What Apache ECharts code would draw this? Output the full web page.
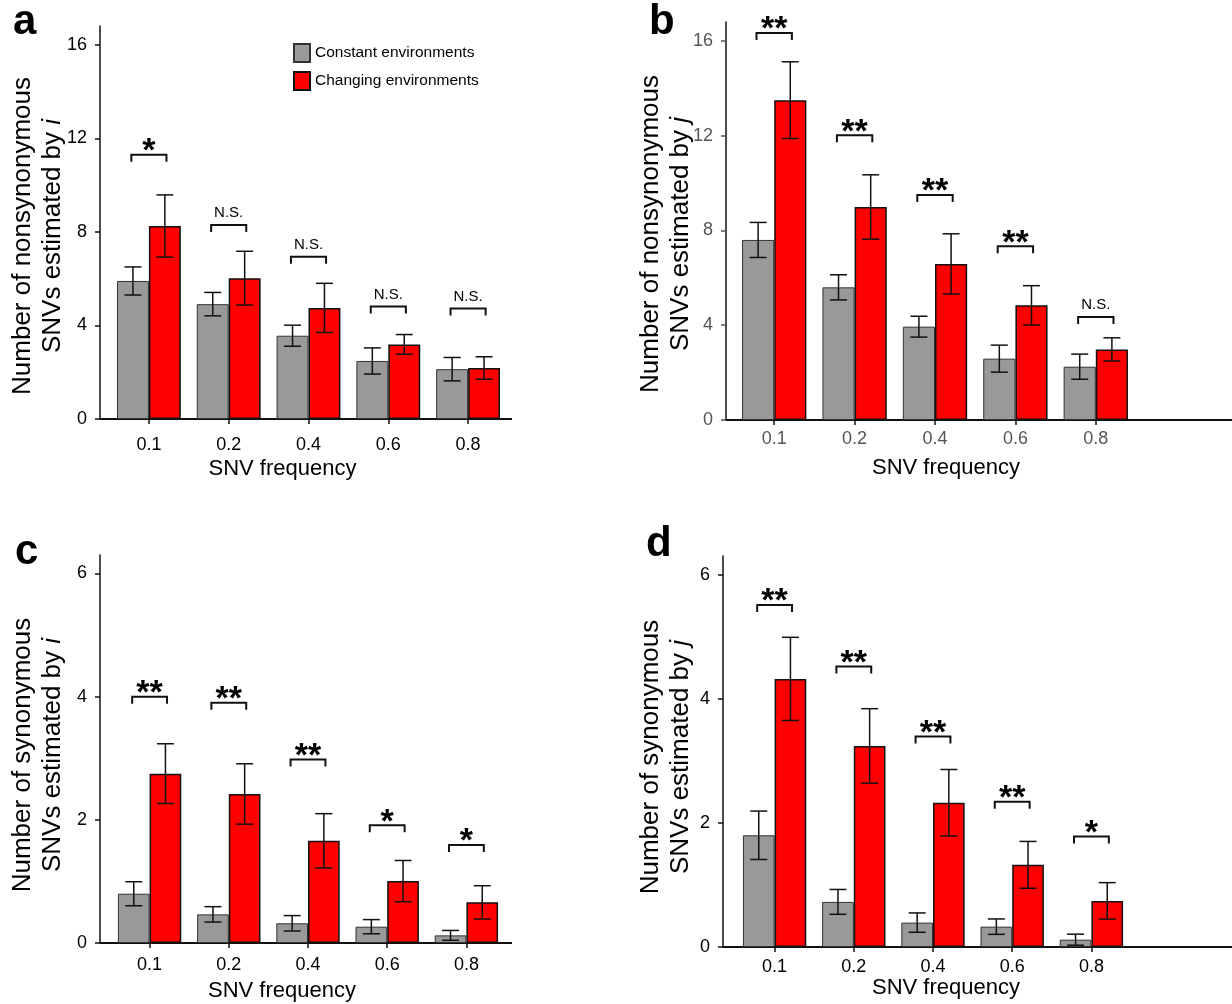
<!DOCTYPE html>
<html>
<head>
<meta charset="utf-8">
<script src="https://cdn.jsdelivr.net/npm/echarts@6/dist/echarts.min.js"></script>
<style>
  html, body { margin: 0; padding: 0; background: #fff; }
  #chart { width: 1232px; height: 1004px; }
</style>
</head>
<body>
<div id="chart"></div>
<script>
// categories and ticks
const freqs = ['0.1', '0.2', '0.4', '0.6', '0.8'];
const yTicksNon = [0, 4, 8, 12, 16];
const yTicksSyn = [0, 2, 4, 6];

// a: nonsynonymous, estimated by i
const aConst = [5.90, 4.91, 3.56, 2.48, 2.13];
const aConstSE = [0.60, 0.50, 0.45, 0.56, 0.50];
const aChange = [8.25, 6.02, 4.75, 3.19, 2.18];
const aChangeSE = [1.33, 1.15, 1.05, 0.42, 0.48];
const aSigY = [11.3, 8.29, 6.94, 4.81, 4.72];
const aSig = ['*', 'N.S.', 'N.S.', 'N.S.', 'N.S.'];

// b: nonsynonymous, estimated by j
const bConst = [7.60, 5.60, 3.94, 2.59, 2.25];
const bConstSE = [0.74, 0.53, 0.44, 0.57, 0.53];
const bChange = [13.50, 8.99, 6.59, 4.84, 2.98];
const bChangeSE = [1.62, 1.36, 1.27, 0.83, 0.49];
const bSigY = [16.34, 12.02, 9.50, 7.33, 4.35];
const bSig = ['**', '**', '**', '**', 'N.S.'];

// c: synonymous, estimated by i
const cConst = [0.80, 0.465, 0.32, 0.265, 0.124];
const cConstSE = [0.195, 0.125, 0.125, 0.115, 0.08];
const cChange = [2.75, 2.42, 1.66, 1.005, 0.66];
const cChangeSE = [0.485, 0.49, 0.44, 0.335, 0.27];
const cSigY = [4.0, 3.90, 2.98, 1.91, 1.59];
const cSig = ['**', '**', '**', '*', '*'];

// d: synonymous, estimated by j
const dConst = [1.80, 0.727, 0.393, 0.328, 0.118];
const dConstSE = [0.39, 0.20, 0.156, 0.124, 0.089];
const dChange = [4.32, 3.24, 2.325, 1.324, 0.743];
const dChangeSE = [0.67, 0.60, 0.535, 0.377, 0.294];
const dSigY = [5.51, 4.52, 3.39, 2.34, 1.78];
const dSig = ['**', '**', '**', '**', '*'];

const FONT = '"Liberation Sans", Arial, Helvetica, sans-serif';
const GREY = '#999999';
const RED = '#ff0000';

const panels = [
  { letter: 'a', cons: aConst, consSE: aConstSE, chg: aChange, chgSE: aChangeSE, sigY: aSigY, sig: aSig,
    ticks: yTicksNon, max: 16.8, title: 'Number of nonsynonymous\nSNVs estimated by {it|i}',
    left: 109, width: 399, top: 26, height: 393, axisX: 100, lineEnd: 512, labelColor: '#000',
    letterX: 13, letterY: 39, titleX: 38, titleY: 236, nameShift: -26, labelMargin: 17, nameGap: 39 },
  { letter: 'b', cons: bConst, consSE: bConstSE, chg: bChange, chgSE: bChangeSE, sigY: bSigY, sig: bSig,
    ticks: yTicksNon, max: 16.8, title: 'Number of nonsynonymous\nSNVs estimated by {it|j}',
    left: 734, width: 402, top: 22, height: 398, axisX: 726, lineEnd: 1232, labelColor: '#555',
    letterX: 649, letterY: 39, titleX: 666, titleY: 234, nameShift: 11, labelMargin: 10.5, nameGap: 37 },
  { letter: 'c', cons: cConst, consSE: cConstSE, chg: cChange, chgSE: cChangeSE, sigY: cSigY, sig: cSig,
    ticks: yTicksSyn, max: 6.3, title: 'Number of synonymous\nSNVs estimated by {it|i}',
    left: 110, width: 396, top: 555, height: 388, axisX: 100, lineEnd: 512, labelColor: '#000',
    letterX: 15, letterY: 569, titleX: 38, titleY: 755, nameShift: -26, labelMargin: 13.5, nameGap: 37 },
  { letter: 'd', cons: dConst, consSE: dConstSE, chg: dChange, chgSE: dChangeSE, sigY: dSigY, sig: dSig,
    ticks: yTicksSyn, max: 6.3, title: 'Number of synonymous\nSNVs estimated by {it|j}',
    left: 735, width: 396, top: 556, height: 391, axisX: 723, lineEnd: 1232, labelColor: '#000',
    letterX: 646, letterY: 561, titleX: 666, titleY: 757, nameShift: 13, labelMargin: 11.5, nameGap: 30 }
];

// error bar drawn at the centre of the grey (side -1) or red (side +1) bar
function errorBar(side) {
  return function (params, api) {
    const i = api.value(0), v = api.value(1), e = api.value(2);
    const band = api.size([1, 0])[0];
    const x = api.coord([i, v])[0] + side * band * 0.2;
    const yTop = api.coord([i, v + e])[1];
    const yBot = api.coord([i, Math.max(v - e, 0)])[1];
    const w = 8.5;
    const st = { stroke: '#111', lineWidth: 1.5 };
    return {
      type: 'group',
      children: [
        { type: 'line', shape: { x1: x, y1: yTop, x2: x, y2: yBot }, style: st },
        { type: 'line', shape: { x1: x - w, y1: yTop, x2: x + w, y2: yTop }, style: st },
        { type: 'line', shape: { x1: x - w, y1: yBot, x2: x + w, y2: yBot }, style: st }
      ]
    };
  };
}

// significance bracket between the two bars, label above
function bracket(labels) {
  return function (params, api) {
    const i = api.value(0), y = api.value(1);
    const band = api.size([1, 0])[0];
    const p = api.coord([i, y]);
    const half = band * 0.22, leg = 7;
    const lab = labels[params.dataIndex];
    const star = lab !== 'N.S.';
    return {
      type: 'group',
      children: [
        { type: 'polyline',
          shape: { points: [[p[0] - half, p[1] + leg], [p[0] - half, p[1]], [p[0] + half, p[1]], [p[0] + half, p[1] + leg]] },
          style: { stroke: '#111', lineWidth: 2, fill: null } },
        { type: 'text', x: p[0], y: star ? p[1] - 3 : p[1] - 12,
          style: { text: lab, fill: '#000', align: 'center', verticalAlign: 'middle',
                   font: star ? 'bold 34px ' + FONT : '15px ' + FONT } }
      ]
    };
  };
}

const grid = [], xAxis = [], yAxis = [], series = [], graphic = [];

panels.forEach(function (pn, g) {
  grid.push({ left: pn.left, width: pn.width, top: pn.top, height: pn.height });
  const pad = pn.nameShift < 0 ? [0, -2 * pn.nameShift, 0, 0] : [0, 0, 0, 2 * pn.nameShift];
  xAxis.push({
    type: 'category', gridIndex: g, data: freqs,
    axisLine: { show: false },
    axisTick: { show: true, alignWithLabel: true, length: 5, lineStyle: { color: '#111', width: 1.5 } },
    axisLabel: { color: pn.labelColor, fontSize: 18, fontFamily: FONT, margin: pn.labelMargin },
    name: 'SNV frequency', nameLocation: 'middle', nameGap: pn.nameGap,
    nameTextStyle: { color: '#000', fontSize: 22, fontFamily: FONT, padding: pad }
  });
  yAxis.push({
    type: 'value', gridIndex: g, min: 0, max: pn.max, interval: 2,
    offset: pn.left - pn.axisX,
    splitLine: { show: false },
    axisLine: { show: true, lineStyle: { color: '#111', width: 1.5 } },
    axisTick: { show: true, length: 5, customValues: pn.ticks, lineStyle: { color: pn.labelColor === '#000' ? '#111' : '#555', width: 1.5 } },
    axisLabel: { color: pn.labelColor, fontSize: 18, fontFamily: FONT, margin: 13, customValues: pn.ticks }
  });

  series.push({
    name: 'Constant environments', type: 'bar', xAxisIndex: g, yAxisIndex: g,
    data: pn.cons, barGap: 0, barCategoryGap: '20%',
    itemStyle: { color: GREY, borderColor: '#333', borderWidth: 1 }
  });
  series.push({
    name: 'Changing environments', type: 'bar', xAxisIndex: g, yAxisIndex: g,
    data: pn.chg, barGap: 0, barCategoryGap: '20%',
    itemStyle: { color: RED, borderColor: '#111', borderWidth: 1.5 }
  });
  series.push({
    type: 'custom', xAxisIndex: g, yAxisIndex: g, z: 5,
    renderItem: errorBar(-1), encode: { x: 0, y: 1 },
    data: pn.cons.map(function (v, i) { return [i, v, pn.consSE[i]]; })
  });
  series.push({
    type: 'custom', xAxisIndex: g, yAxisIndex: g, z: 5,
    renderItem: errorBar(1), encode: { x: 0, y: 1 },
    data: pn.chg.map(function (v, i) { return [i, v, pn.chgSE[i]]; })
  });
  series.push({
    type: 'custom', xAxisIndex: g, yAxisIndex: g, z: 5,
    renderItem: bracket(pn.sig), encode: { x: 0, y: 1 },
    data: pn.sigY.map(function (v, i) { return [i, v]; })
  });

  // panel letter
  graphic.push({
    type: 'text', left: pn.letterX, top: pn.letterY - 38,
    style: { text: pn.letter, font: 'bold 42px ' + FONT, fill: '#000' }
  });
  // y axis title (two lines, reading upwards)
  graphic.push({
    type: 'text', x: pn.titleX, y: pn.titleY, rotation: Math.PI / 2,
    style: {
      text: pn.title, font: '26px ' + FONT, fill: '#000', lineHeight: 30,
      align: 'center', verticalAlign: 'middle',
      rich: { it: { fontStyle: 'italic', fontSize: 26, fontFamily: FONT, lineHeight: 30 } }
    }
  });
  // x axis line, running from the y axis to the panel edge
  graphic.push({
    type: 'line', silent: true,
    shape: { x1: pn.axisX, y1: pn.top + pn.height, x2: pn.lineEnd, y2: pn.top + pn.height },
    style: { stroke: '#111', lineWidth: 2 }
  });
});

const chart = echarts.init(document.getElementById('chart'));
chart.setOption({
  backgroundColor: '#fff',
  animation: false,
  textStyle: { fontFamily: FONT },
  legend: {
    orient: 'vertical', left: 293, top: 43, padding: 0, itemWidth: 16, itemHeight: 18, itemGap: 8,
    icon: 'rect', selectedMode: false,
    textStyle: { fontSize: 15.5, color: '#000', fontFamily: FONT },
    data: ['Constant environments', 'Changing environments']
  },
  grid: grid,
  xAxis: xAxis,
  yAxis: yAxis,
  series: series,
  graphic: graphic
});
</script>
</body>
</html>
